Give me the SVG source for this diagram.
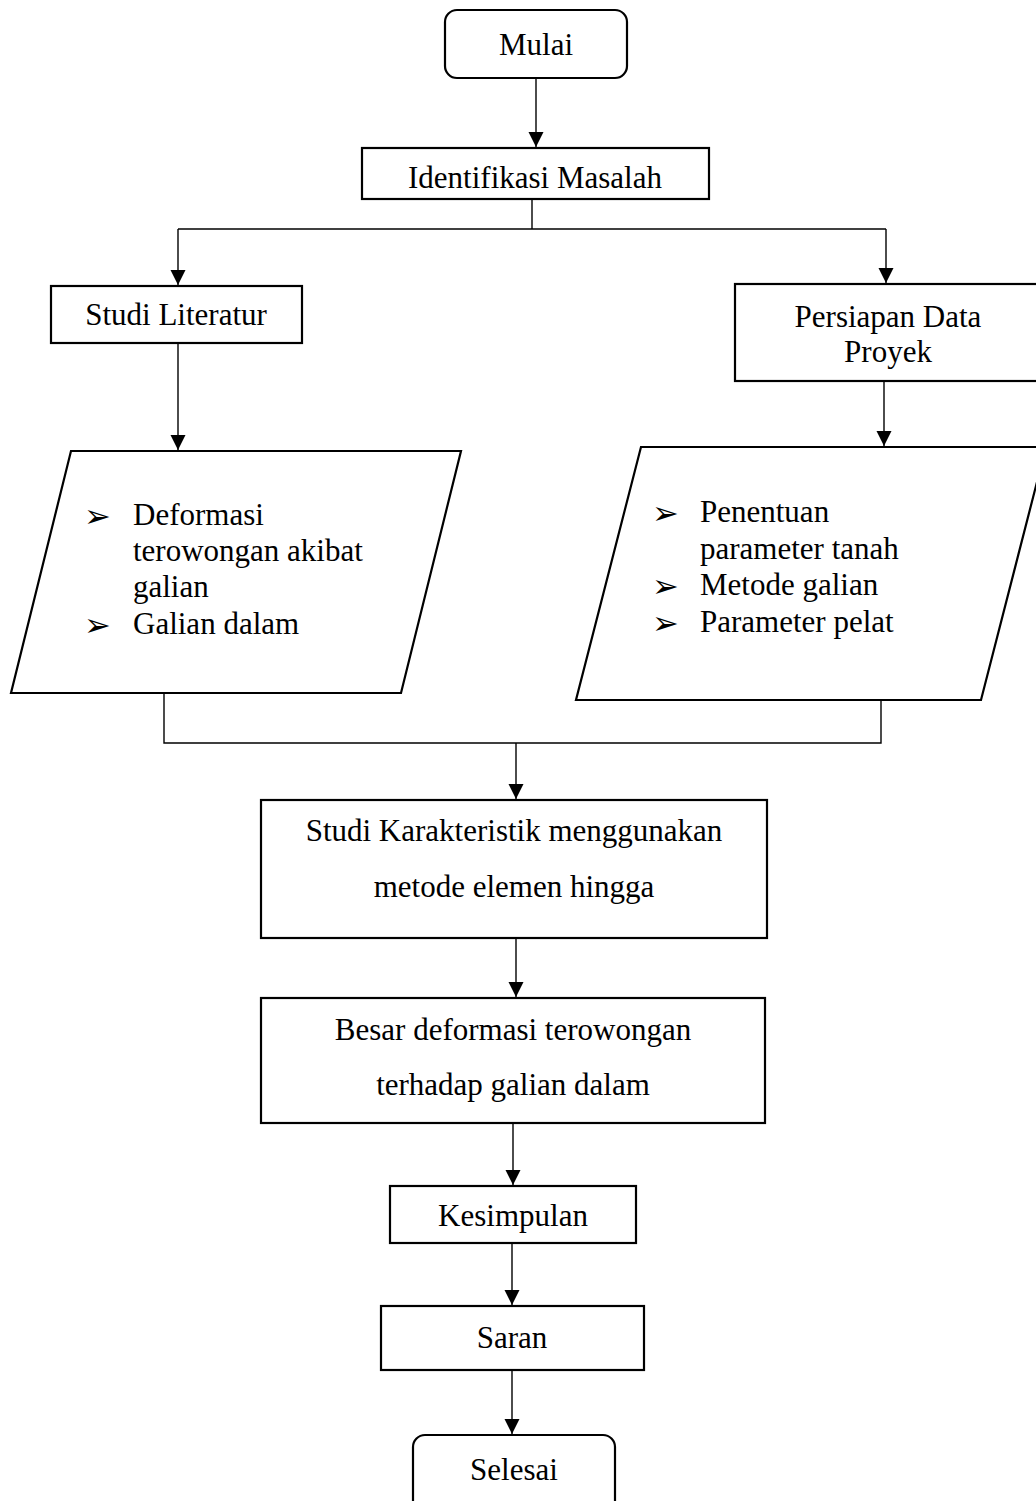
<svg xmlns="http://www.w3.org/2000/svg" width="1036" height="1501" viewBox="0 0 1036 1501">
<style>
.box{fill:#fff;stroke:#000;stroke-width:2.2}
.t{font-family:"Liberation Serif","Times New Roman",serif;font-size:31px;fill:#000}
.c{text-anchor:middle}
.b{font-family:"DejaVu Sans",sans-serif;font-size:32px;fill:#000}
.ln{fill:none;stroke:#000;stroke-width:1.4}
</style>
<defs>
<marker id="ah" markerUnits="userSpaceOnUse" markerWidth="16" markerHeight="16" refX="15" refY="7.5" orient="auto">
<path d="M0,0 L15,7.5 L0,15 Z" fill="#000"/>
</marker>
</defs>
<rect width="1036" height="1501" fill="#fff"/>
<g id="connectors">
<line class="ln" x1="536" y1="78" x2="536" y2="147" marker-end="url(#ah)"/>
<polyline class="ln" points="532,199 532,229"/>
<polyline class="ln" points="178,229 886,229"/>
<line class="ln" x1="178" y1="229" x2="178" y2="285" marker-end="url(#ah)"/>
<line class="ln" x1="886" y1="229" x2="886" y2="283" marker-end="url(#ah)"/>
<line class="ln" x1="178" y1="343" x2="178" y2="450" marker-end="url(#ah)"/>
<line class="ln" x1="884" y1="381" x2="884" y2="446" marker-end="url(#ah)"/>
<polyline class="ln" points="164,693 164,743 881,743 881,700"/>
<line class="ln" x1="516" y1="743" x2="516" y2="799" marker-end="url(#ah)"/>
<line class="ln" x1="516" y1="938" x2="516" y2="997" marker-end="url(#ah)"/>
<line class="ln" x1="513" y1="1123" x2="513" y2="1185" marker-end="url(#ah)"/>
<line class="ln" x1="512" y1="1243" x2="512" y2="1305" marker-end="url(#ah)"/>
<line class="ln" x1="512" y1="1370" x2="512" y2="1434" marker-end="url(#ah)"/>
</g>
<g id="mulai">
<rect class="box" x="445" y="10" width="182" height="68" rx="12"/>
<text class="t c" x="536" y="55">Mulai</text>
</g>
<g id="identifikasi">
<rect class="box" x="362" y="148" width="347" height="51"/>
<text class="t c" x="535" y="188">Identifikasi Masalah</text>
</g>
<g id="studi-literatur">
<rect class="box" x="51" y="286" width="251" height="57"/>
<text class="t c" x="176" y="325">Studi Literatur</text>
</g>
<g id="persiapan">
<rect class="box" x="735" y="284" width="310" height="97"/>
<text class="t c" x="888" y="327">Persiapan Data</text>
<text class="t c" x="888" y="362">Proyek</text>
</g>
<g id="input-literatur">
<polygon class="box" points="71,451 461,451 401,693 11,693"/>
<text class="b" x="84" y="527">➢</text>
<text class="t" x="133" y="525">Deformasi</text>
<text class="t" x="133" y="561">terowongan akibat</text>
<text class="t" x="133" y="597">galian</text>
<text class="b" x="84" y="636">➢</text>
<text class="t" x="133" y="634">Galian dalam</text>
</g>
<g id="input-data">
<polygon class="box" points="641,447 1046,447 981,700 576,700"/>
<text class="b" x="652" y="524">➢</text>
<text class="t" x="700" y="522">Penentuan</text>
<text class="t" x="700" y="559">parameter tanah</text>
<text class="b" x="652" y="597">➢</text>
<text class="t" x="700" y="595">Metode galian</text>
<text class="b" x="652" y="634">➢</text>
<text class="t" x="700" y="632">Parameter pelat</text>
</g>
<g id="studi-karakteristik">
<rect class="box" x="261" y="800" width="506" height="138"/>
<text class="t c" x="514" y="841">Studi Karakteristik menggunakan</text>
<text class="t c" x="514" y="897">metode elemen hingga</text>
</g>
<g id="besar-deformasi">
<rect class="box" x="261" y="998" width="504" height="125"/>
<text class="t c" x="513" y="1040">Besar deformasi terowongan</text>
<text class="t c" x="513" y="1095">terhadap galian dalam</text>
</g>
<g id="kesimpulan">
<rect class="box" x="390" y="1186" width="246" height="57"/>
<text class="t c" x="513" y="1226">Kesimpulan</text>
</g>
<g id="saran">
<rect class="box" x="381" y="1306" width="263" height="64"/>
<text class="t c" x="512" y="1348">Saran</text>
</g>
<g id="selesai">
<rect class="box" x="413" y="1435" width="202" height="80" rx="12"/>
<text class="t c" x="514" y="1480">Selesai</text>
</g>
</svg>
